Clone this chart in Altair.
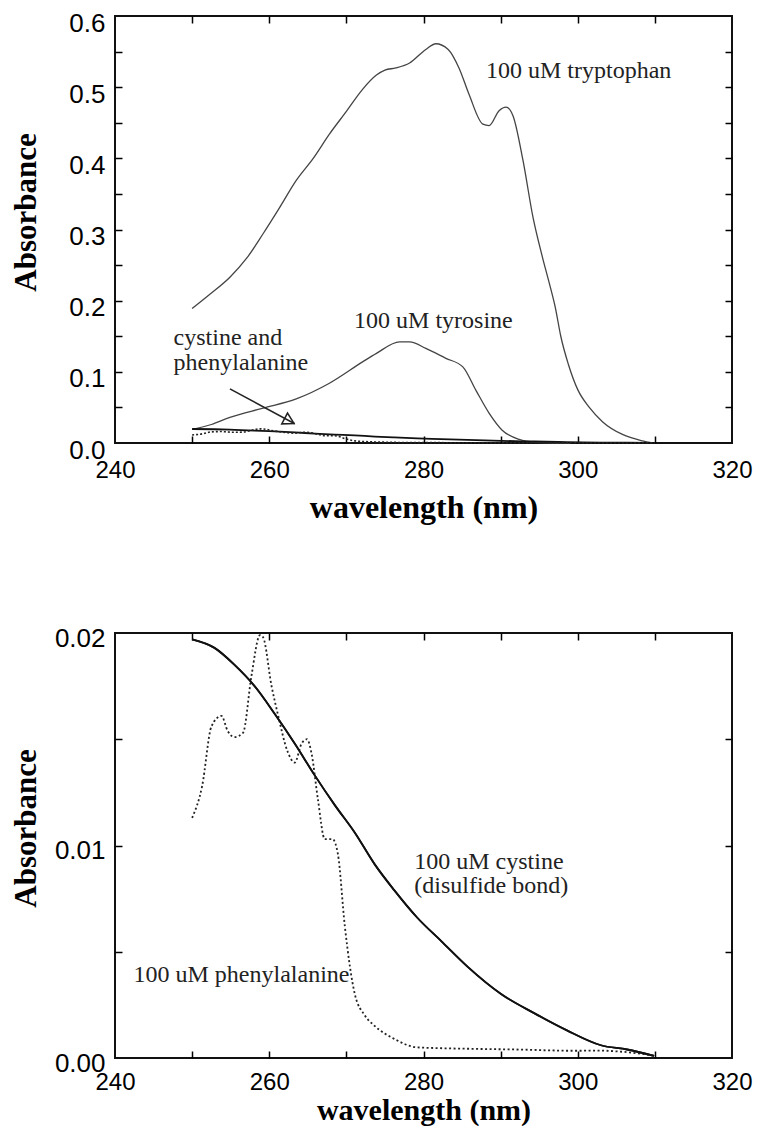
import altair as alt
import pandas as pd

# ---------------- data ----------------
trp_wl = [250, 252.3, 254.9, 257.1, 259.2, 261.3, 263.5, 265.7, 267.8, 270.0, 272.1, 273.9,
          275.0, 276.4, 278.2, 280.3, 281.6, 283.2, 284.6, 285.9, 287.7, 288.5, 289.8, 290.7,
          291.6, 292.9, 294.2, 295.4, 296.3, 297.1, 297.8, 298.8, 300.0, 301.5, 303.2, 305.8,
          308.4, 309.7]
trp_abs = [0.189, 0.209, 0.233, 0.260, 0.294, 0.330, 0.369, 0.400, 0.434, 0.466, 0.497, 0.517,
           0.524, 0.527, 0.534, 0.553, 0.561, 0.553, 0.527, 0.490, 0.448, 0.446, 0.467, 0.472,
           0.460, 0.397, 0.317, 0.262, 0.225, 0.190, 0.150, 0.110, 0.075, 0.050, 0.030, 0.012,
           0.003, 0.0]

tyr_wl = [250, 252.5, 254.9, 259.2, 263.5, 267.8, 272.1, 273.9, 276.9, 278.2, 280.3, 282.9,
          285.1, 286.8, 288.5, 290.2, 292.4, 294.5, 297.0, 299.0]
tyr_abs = [0.019, 0.026, 0.036, 0.049, 0.062, 0.084, 0.114, 0.126, 0.142, 0.142, 0.133, 0.119,
           0.107, 0.074, 0.042, 0.018, 0.005, 0.001, 0.0, 0.0]

cys_wl = [250, 252.9, 255.5, 258.1, 260.7, 263.3, 265.9, 268.5, 271.1, 273.7, 276.2, 279.2,
          282.3, 285.7, 290.1, 294.4, 298.6, 303.0, 306.4, 309.9]
cys_abs = [0.0197, 0.0193, 0.0185, 0.0175, 0.0162, 0.0148, 0.0133, 0.0119, 0.0106, 0.0091,
           0.0079, 0.0066, 0.0055, 0.0043, 0.0030, 0.0021, 0.0013, 0.0006, 0.0004, 0.0001]

phe_wl = [250, 251.3, 252.5, 253.8, 254.6, 255.5, 256.6, 257.7, 258.8, 259.2, 260.3, 261.1,
          262.4, 263.3, 264.2, 264.9, 265.5, 266.3, 267.2, 268.2, 268.9, 269.8, 271.1, 272.4,
          273.7, 276.2, 279.2, 286.6, 292.0, 299.5, 302.7, 305.5, 308.2, 310.0]
phe_abs = [0.0113, 0.0128, 0.0156, 0.0161, 0.0154, 0.0151, 0.0153, 0.0180, 0.0199, 0.0198,
           0.0175, 0.0162, 0.0144, 0.0139, 0.0148, 0.0150, 0.0143, 0.0122, 0.0103, 0.0103,
           0.0096, 0.0062, 0.0030, 0.0020, 0.0015, 0.0009, 0.0005, 0.00043, 0.0004, 0.00034,
           0.00035, 0.0003, 0.0002, 0.0001]

# annotations
top_text = ["100 uM tryptophan", "100 uM tyrosine", "cystine and", "phenylalanine"]
top_text_wl = [288.1, 271.0, 247.6, 247.6]
top_text_abs = [0.523, 0.172, 0.147, 0.112]
arrow_wl = [254.9, 263.3]
arrow_abs = [0.076, 0.027]
arrowhead_wl = [262.6]
arrowhead_abs = [0.031]

bot_text = ["100 uM cystine", "(disulfide bond)", "100 uM phenylalanine"]
bot_text_wl = [278.8, 278.8, 242.4]
bot_text_abs = [0.00923, 0.0081, 0.0039]

x_labels = [240, 260, 280, 300, 320]
x_minor = [250, 260, 270, 280, 290, 300, 310]
top_y_labels = [0.0, 0.1, 0.2, 0.3, 0.4, 0.5, 0.6]
top_y_minor = [0.05, 0.1, 0.15, 0.2, 0.25, 0.3, 0.35, 0.4, 0.45, 0.5, 0.55]
bot_y_labels = [0.0, 0.01, 0.02]
bot_y_minor = [0.005, 0.01, 0.015]

# ---------------- styling ----------------
LABEL_FONT = "Liberation Sans"
SERIF = "Liberation Serif"
W = 617
H_TOP = 427
H_BOT = 425


def df(wl, a):
    return pd.DataFrame({"wl": wl, "abs": a})


def panel(series, texts, arrow, ymax, yfmt, ylabels, yminor, height, xlabel_pad, xtitle_y,
          xtitle_size, ytitle_x, ytitle_y, ylabel_offset):
    xs = alt.Scale(domain=[240, 320], nice=False, zero=False)
    ys = alt.Scale(domain=[0, ymax], nice=False, zero=False)

    main_x = alt.Axis(orient="bottom", values=x_labels, ticks=False, tickSize=0, domain=False,
                      grid=False, labelFont=LABEL_FONT, labelFontSize=24, labelColor="black",
                      labelPadding=xlabel_pad, labelBaseline="middle", labelFlush=False,
                      labelOverlap=False, labelBound=False, format="d",
                      title="wavelength (nm)", titleFont=SERIF, titleFontSize=xtitle_size,
                      titleFontWeight="bold", titleColor="black", titleY=xtitle_y,
                      titleBaseline="middle")
    main_y = alt.Axis(orient="left", values=ylabels, ticks=False, tickSize=0, domain=False,
                      grid=False, labelFont=LABEL_FONT, labelFontSize=26, labelColor="black",
                      labelPadding=10, labelOffset=ylabel_offset, labelFlush=False,
                      labelOverlap=False, labelBound=False, format=yfmt, title="Absorbance",
                      titleFont=SERIF, titleFontSize=31, titleFontWeight="bold",
                      titleColor="black", titleX=ytitle_x, titleY=ytitle_y,
                      titleBaseline="middle", titleAlign="center")
    tick_common = dict(labels=False, domain=False, grid=False, ticks=True, tickSize=7,
                       tickColor="black", tickWidth=1.5, title=None)
    xa1 = alt.Axis(orient="top", offset=-height, values=x_minor, **tick_common)
    ya1 = alt.Axis(orient="right", offset=-W, values=yminor, **tick_common)
    xa2 = alt.Axis(orient="bottom", offset=-height, values=x_minor, **tick_common)
    ya2 = alt.Axis(orient="left", offset=-W, values=yminor, **tick_common)

    axes = [(main_x, main_y), (xa1, ya1), (xa2, ya2)]
    layers = []
    for i, (d, color, width, dash) in enumerate(series):
        if i < 3:
            ax, ay = axes[i]
        else:
            ax, ay = None, None
        props = dict(color=color, strokeWidth=width, interpolate="monotone")
        if dash:
            props["strokeDash"] = dash
        layers.append(
            alt.Chart(d).mark_line(**props).encode(
                x=alt.X("wl:Q", scale=xs, axis=ax),
                y=alt.Y("abs:Q", scale=ys, axis=ay),
            )
        )
    tdf = pd.DataFrame({"wl": texts[1], "abs": texts[2], "t": texts[0]})
    layers.append(
        alt.Chart(tdf).mark_text(align="left", baseline="middle", font=SERIF, fontSize=24,
                                 color="#222").encode(
            x=alt.X("wl:Q", scale=xs, axis=None),
            y=alt.Y("abs:Q", scale=ys, axis=None),
            text="t:N",
        )
    )
    if arrow is not None:
        layers.append(
            alt.Chart(df(arrow[0], arrow[1])).mark_line(color="#222", strokeWidth=1.5).encode(
                x=alt.X("wl:Q", scale=xs, axis=None),
                y=alt.Y("abs:Q", scale=ys, axis=None),
            )
        )
        layers.append(
            alt.Chart(df(arrow[2], arrow[3])).mark_point(shape="triangle-right", angle=28,
                                                         size=150, filled=False, color="#222",
                                                         strokeWidth=1.5, opacity=1).encode(
                x=alt.X("wl:Q", scale=xs, axis=None),
                y=alt.Y("abs:Q", scale=ys, axis=None),
            )
        )
    return alt.layer(*layers).resolve_axis(x="independent", y="independent").properties(
        width=W, height=height)


top = panel(
    [(df(trp_wl, trp_abs), "#444", 1.3, None),
     (df(tyr_wl, tyr_abs), "#444", 1.3, None),
     (df(cys_wl, cys_abs), "#111", 1.8, None),
     (df(phe_wl, phe_abs), "#222", 1.6, [2, 2])],
    (top_text, top_text_wl, top_text_abs),
    (arrow_wl, arrow_abs, arrowhead_wl, arrowhead_abs),
    0.6, ".1f", top_y_labels, top_y_minor, H_TOP, 27, 64, 32, -89, 196, 7,
)

bottom = panel(
    [(df(cys_wl, cys_abs), "#111", 1.8, None),
     (df(phe_wl, phe_abs), "#222", 1.8, [2, 2.5]),
     (df(cys_wl, cys_abs), "#111", 1.8, None)],
    (bot_text, bot_text_wl, bot_text_abs),
    None,
    0.02, ".2f", bot_y_labels, bot_y_minor, H_BOT, 24, 52, 30, -89, 195, 5,
)

chart = alt.vconcat(
    top, bottom, spacing=190, bounds="flush",
    padding={"left": 1, "top": 1, "right": 0, "bottom": 0},
).configure_view(stroke="#111", strokeWidth=2)

chart.save("out.html", embed_options={"renderer": "svg", "actions": False})
